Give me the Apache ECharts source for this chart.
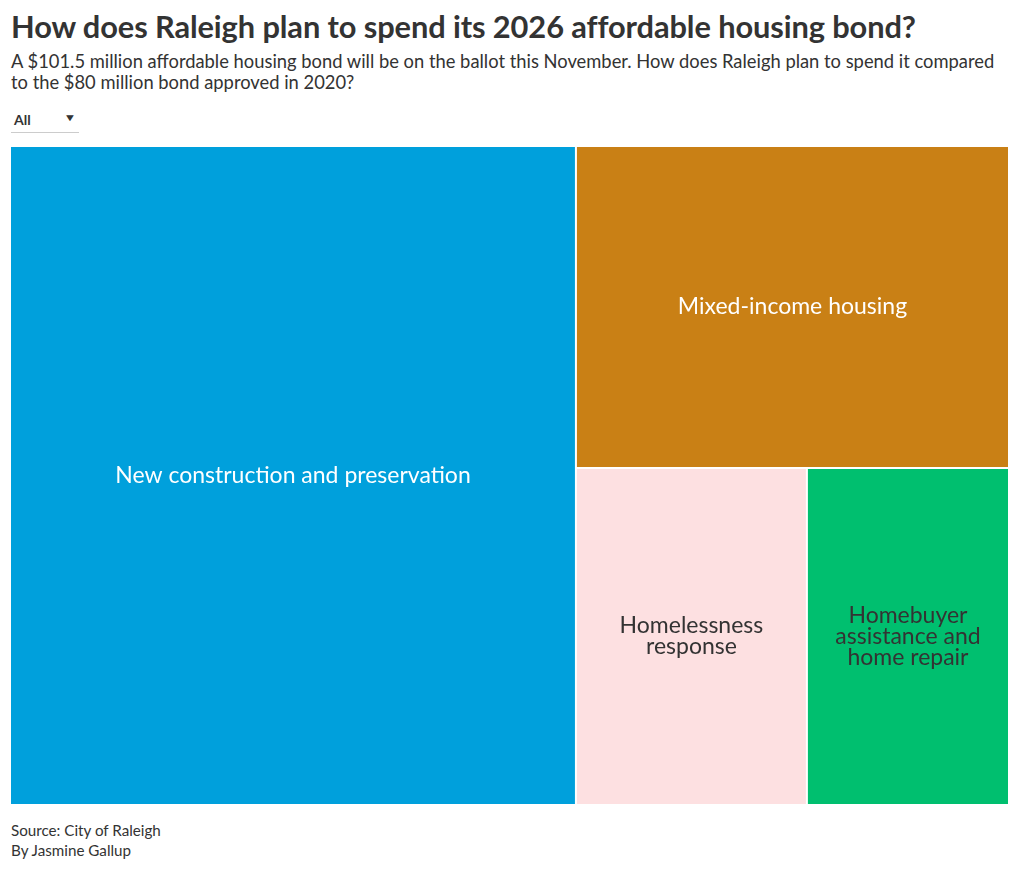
<!DOCTYPE html>
<html>
<head>
<meta charset="utf-8">
<script src="https://cdn.jsdelivr.net/npm/echarts@6/dist/echarts.min.js"></script>
<style>
  html, body { margin: 0; padding: 0; background: #fff; }
  body { width: 1020px; height: 869px; position: relative; font-family: Lato, "Noto Sans", sans-serif; color: #333; overflow: hidden; }
  #title { position: absolute; left: 11px; top: 8px; font-size: 30.8px; font-weight: 700; color: #333; white-space: nowrap; letter-spacing: -0.1px; }
  #sub { position: absolute; left: 11px; top: 51px; font-size: 18.35px; line-height: 21px; color: #333; white-space: nowrap; }
  #dd { position: absolute; left: 11px; top: 109px; width: 68px; height: 23px; border-bottom: 1px solid #ccc; font-size: 14px; font-weight: 700; color: #333; }
  #dd span.l { position: absolute; left: 3px; top: 2px; }
  #dd span.a { position: absolute; left: 54px; top: 2px; font-size: 10px; transform: scaleX(1.3); }
  #chart { position: absolute; left: 11px; top: 147px; width: 997px; height: 657px; }
  #foot { position: absolute; left: 11px; top: 820px; font-size: 15.2px; line-height: 20px; color: #333; }
</style>
</head>
<body>
<div id="title">How does Raleigh plan to spend its 2026 affordable housing bond?</div>
<div id="sub">A $101.5 million affordable housing bond will be on the ballot this November. How does Raleigh plan to spend it compared<br>to the $80 million bond approved in 2020?</div>
<div id="dd"><span class="l">All</span><span class="a">&#9660;</span></div>
<div id="chart"></div>
<div id="foot">Source: City of Raleigh<br>By Jasmine Gallup</div>
<script>
const categories = [
  "New construction and preservation",
  "Mixed-income housing",
  "Homelessness response",
  "Homebuyer assistance and home repair"
];
const labels = [
  "New construction and preservation",
  "Mixed-income housing",
  "Homelessness\nresponse",
  "Homebuyer\nassistance and\nhome repair"
];
const values = [57.5, 21.5, 12, 10.5]; // $ millions
const colors = ["#00a0dc", "#c98015", "#fde0e1", "#00bf6f"];
const labelColors = ["#ffffff", "#ffffff", "#333333", "#333333"];

const chart = echarts.init(document.getElementById('chart'));
const data = categories.map((c, i) => ({
  name: c,
  value: values[i],
  itemStyle: { color: colors[i] },
  label: { color: labelColors[i], formatter: labels[i] }
}));
chart.setOption({
  animation: false,
  series: [{
    type: 'treemap',
    left: 0, top: 0, right: 0, bottom: 0,
    squareRatio: 1,
    roam: false,
    nodeClick: false,
    breadcrumb: { show: false },
    label: {
      show: true,
      position: 'inside',
      align: 'center',
      verticalAlign: 'middle',
      fontSize: 23,
      lineHeight: 21,
      fontFamily: 'Lato, "Noto Sans", sans-serif'
    },
    upperLabel: { show: false },
    levels: [
      { itemStyle: { gapWidth: 2, borderWidth: 0, borderColor: '#fff' } },
      { itemStyle: { borderWidth: 0 } }
    ],
    data: data
  }]
});
</script>
</body>
</html>
